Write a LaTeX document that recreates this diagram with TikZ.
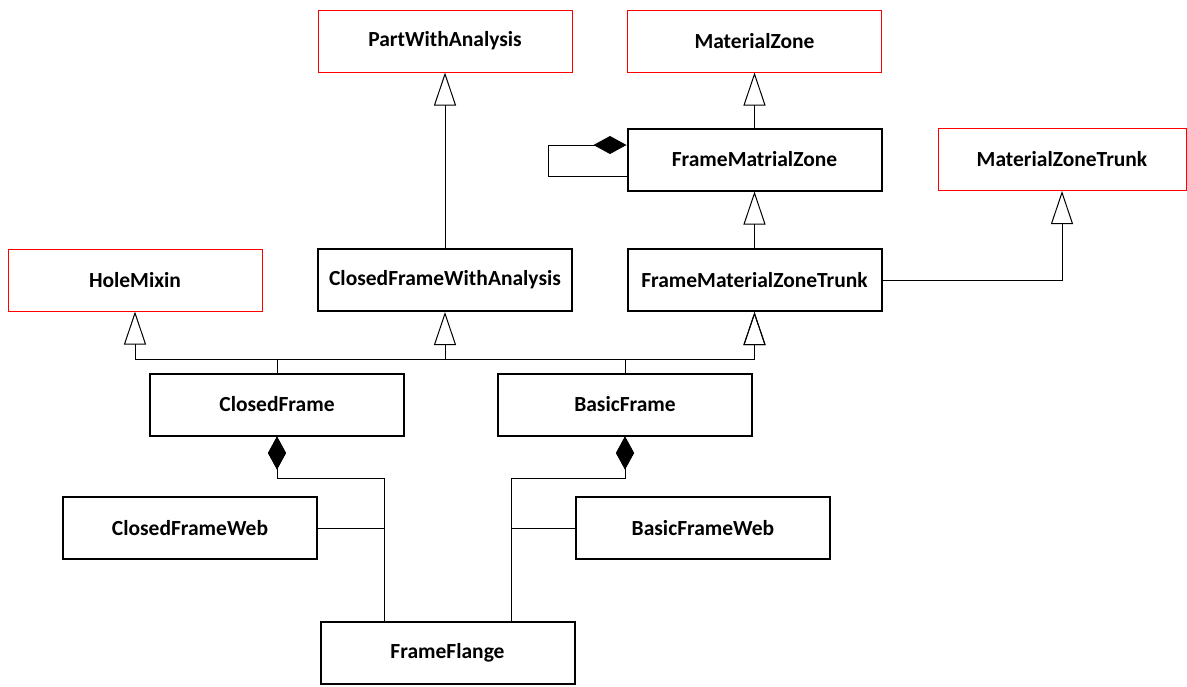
\documentclass[tikz,border=0pt]{standalone}
\usepackage{fontspec}
\setmainfont{Carlito}
\usetikzlibrary{arrows.meta}
\tikzset{
  cls/.style={draw, line width=2pt, minimum width=254pt, minimum height=62pt,
    inner sep=0pt, font=\fontsize{21.5}{25}\selectfont\bfseries},
  ext/.style={cls, draw=red, line width=1pt},
  gen/.style={-{Triangle[open, length=33pt, width=22pt, line width=1pt]}},
  comp/.style={{Diamond[length=33pt, width=18pt]}-},
}
\begin{document}
\begin{tikzpicture}[x=1pt, y=-1pt, line width=1pt]
      \useasboundingbox (0,0) rectangle (1187,686);
      \draw
        (445,41) node[ext] (PartWithAnalysis){PartWithAnalysis}
        (754.5,41) node[ext] (MaterialZone){MaterialZone}
        (754.5,159.5) node[cls] (FrameMatrialZone){FrameMatrialZone}
        (1062,159.5) node[ext, minimum width=248pt] (MaterialZoneTrunk){MaterialZoneTrunk}
        (135,280) node[ext] (HoleMixin){HoleMixin}
        (445,280) node[cls] (ClosedFrameWithAnalysis){ClosedFrameWithAnalysis}
        (754.5,280) node[cls] (FrameMaterialZoneTrunk){FrameMaterialZoneTrunk}
        (277,404.5) node[cls] (ClosedFrame){ClosedFrame}
        (625,404.5) node[cls] (BasicFrame){BasicFrame}
        (190,528) node[cls] (ClosedFrameWeb){ClosedFrameWeb}
        (703,528) node[cls] (BasicFrameWeb){BasicFrameWeb}
        (447.5,653) node[cls] (FrameFlange){FrameFlange};
      \coordinate (bus) at (0,359);
      \coordinate (cfj) at (384,478);
      \coordinate (bfj) at (511,478);
      \begin{scope}[gen]
        \draw (ClosedFrameWithAnalysis) to (PartWithAnalysis);
        \draw (FrameMatrialZone) to (MaterialZone);
        \draw (FrameMaterialZoneTrunk) to (FrameMatrialZone);
        \draw (FrameMaterialZoneTrunk.east) -| (MaterialZoneTrunk.south);
        \draw (ClosedFrame.north) -- (ClosedFrame.north |- bus) -| (HoleMixin.south);
        \draw (ClosedFrame.north) -- (ClosedFrame.north |- bus) -| (ClosedFrameWithAnalysis.south);
        \draw (ClosedFrame.north) -- (ClosedFrame.north |- bus) -| (FrameMaterialZoneTrunk.south);
        \draw (BasicFrame.north) -- (BasicFrame.north |- bus) -| (FrameMaterialZoneTrunk.south);
      \end{scope}
      \begin{scope}[comp]
        \draw ([yshift=14.5pt]FrameMatrialZone.west) -- ++(-78,0) |- ([yshift=-16.5pt]FrameMatrialZone.west);
        \draw (ClosedFrame.south) |- (cfj) -- (cfj |- FrameFlange.north);
        \draw (ClosedFrame.south) |- (cfj) |- (ClosedFrameWeb.east);
        \draw (BasicFrame.south) |- (bfj) -- (bfj |- FrameFlange.north);
        \draw (BasicFrame.south) |- (bfj) |- (BasicFrameWeb.west);
      \end{scope}
    \end{tikzpicture}
\end{document}
